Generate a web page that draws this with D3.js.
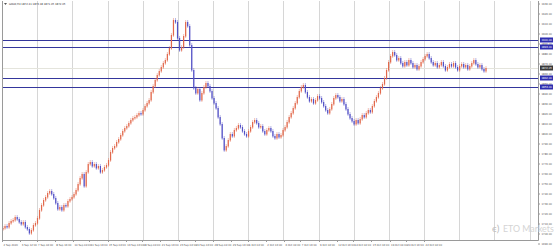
<!DOCTYPE html>
<html>
<head>
<meta charset="utf-8">
<script src="https://cdn.jsdelivr.net/npm/d3@7"></script>
<style>
  body { margin: 0; background: #fff; }
  svg { display: block; font-family: "Liberation Sans Narrow", "DejaVu Sans Condensed", sans-serif; }
</style>
</head>
<body>
<svg width="554" height="252"></svg>
<script>
// closing prices, one per H4 bar (open = previous close)
var closes = [
  1712,1714,1713,1717,1719,1720,1723,1721,1718,1716,
  1718,1713,1711,1707,1710,1715,1717,1722,1730,1735,
  1740,1743,1747,1749,1746,1742,1737,1731,1733,1730,
  1735,1734,1739,1741,1743,1746,1750,1756,1762,1766,
  1754,1768,1776,1778,1774,1776,1772,1774,1768,1770,
  1773,1775,1780,1788,1792,1794,1798,1801,1805,1809,
  1812,1814,1817,1820,1822,1823,1825,1827,1826,1830,
  1834,1837,1840,1848,1854,1860,1865,1869,1873,1877,
  1880,1886,1892,1905,1920,1918,1902,1890,1893,1904,
  1918,1914,1895,1870,1852,1847,1851,1840,1847,1853,
  1857,1854,1849,1842,1837,1832,1823,1816,1802,1790,
  1794,1800,1806,1804,1810,1812,1815,1813,1809,1806,
  1804,1809,1813,1818,1820,1817,1813,1814,1809,1806,
  1810,1812,1809,1804,1802,1806,1803,1805,1810,1813,
  1818,1823,1827,1832,1837,1843,1849,1853,1855,1848,
  1843,1839,1841,1837,1840,1844,1842,1838,1834,1830,
  1827,1831,1836,1842,1845,1843,1839,1841,1836,1831,
  1826,1822,1819,1816,1820,1817,1821,1825,1823,1827,
  1830,1828,1834,1839,1843,1847,1852,1856,1862,1870,
  1878,1884,1888,1885,1880,1882,1877,1874,1878,1875,
  1880,1877,1873,1875,1871,1874,1878,1881,1884,1886,
  1882,1878,1875,1877,1873,1875,1878,1874,1870,1873,
  1876,1874,1877,1873,1870,1874,1876,1873,1875,1871,
  1874,1877,1880,1876,1873,1875,1871,1869,1872
];

var levels = [1900, 1893, 1862, 1853];
var lastPrice = 1872.05;

var priceTicks = [1936,1926,1916,1906,1896,1886,1876,1866,1856,1846,1836,1826,
  1816,1806,1796,1786,1776,1766,1756,1746,1736,1726,1716,1706,1696];

var dateLabels = ["2 Sep 2020","3 Sep 12:00","7 Sep 04:00","8 Sep 16:00","10 Sep 04:00",
  "11 Sep 16:00","15 Sep 04:00","16 Sep 16:00","18 Sep 04:00","21 Sep 16:00",
  "23 Sep 04:00","24 Sep 16:00","28 Sep 04:00","29 Sep 16:00","1 Oct 04:00",
  "2 Oct 16:00","6 Oct 04:00","7 Oct 16:00","9 Oct 04:00","12 Oct 16:00",
  "14 Oct 04:00","15 Oct 16:00","19 Oct 04:00","20 Oct 16:00","22 Oct 04:00"];
var dateBars = [0,9,17,26,35,43,52,61,69,78,87,95,104,113,121,130,139,147,156,165,173,182,191,199,208];

var svg = d3.select("svg");
var plot = {left: 2, right: 538, top: 1, bottom: 240};
var fs = 2.8;

var x = d3.scaleLinear().domain([0, closes.length - 1]).range([3, 486]);
var y = d3.scaleLinear().domain([1700, 1938]).range([240, 2]);

svg.append("rect").attr("width", 554).attr("height", 252).attr("fill", "#fff");

// vertical grid every second date label, continued into the right margin
var gridBars = d3.range(0, 262, dateBars[2] + 0.33);
svg.append("g").selectAll("line")
  .data(gridBars.slice(1))
  .enter().append("line")
    .attr("x1", function(d) { return Math.round(x(d)) - 0.5; })
    .attr("x2", function(d) { return Math.round(x(d)) - 0.5; })
    .attr("y1", plot.top)
    .attr("y2", plot.bottom)
    .attr("stroke", "#d6d6d6")
    .attr("stroke-width", 1);

// current price line
svg.append("line")
  .attr("x1", plot.left).attr("x2", plot.right)
  .attr("y1", Math.round(y(lastPrice)) + 0.5).attr("y2", Math.round(y(lastPrice)) + 0.5)
  .attr("stroke", "#e4e4dc");

// horizontal levels
svg.append("g").selectAll("line")
  .data(levels)
  .enter().append("line")
    .attr("x1", plot.left).attr("x2", plot.right)
    .attr("y1", function(d) { return Math.round(y(d)) + 0.5; })
    .attr("y2", function(d) { return Math.round(y(d)) + 0.5; })
    .attr("stroke", "#34369c")
    .attr("stroke-width", 1);

// candles
var bars = closes.map(function(c, i) {
  var o = i ? closes[i - 1] : c - 1;
  return {i: i, open: o, close: c};
});

var candle = svg.append("g").selectAll("g")
  .data(bars)
  .enter().append("g")
    .attr("stroke", function(d) { return d.close >= d.open ? "#e2694c" : "#5250c6"; });

candle.append("line")
  .attr("x1", function(d) { return x(d.i); })
  .attr("x2", function(d) { return x(d.i); })
  .attr("y1", function(d) { return y(Math.max(d.open, d.close)) - 2; })
  .attr("y2", function(d) { return y(Math.min(d.open, d.close)) + 2; })
  .attr("stroke-width", 0.7)
  .attr("stroke-opacity", 0.6);

candle.append("line")
  .attr("x1", function(d) { return x(d.i); })
  .attr("x2", function(d) { return x(d.i); })
  .attr("y1", function(d) { return y(Math.max(d.open, d.close)); })
  .attr("y2", function(d) { return y(Math.min(d.open, d.close)) + 0.6; })
  .attr("stroke-width", 1.2);

// plot frame
svg.append("path")
  .attr("d", "M" + (plot.left + 0.5) + "," + plot.top + "V" + (plot.bottom + 0.5) +
    "H" + (plot.right + 0.5) + "V" + plot.top)
  .attr("fill", "none")
  .attr("stroke", "#9a9a9a");

// watermark (sits under the axis labels, as in the reference)
svg.append("text")
  .attr("x", 492).attr("y", 232)
  .attr("font-size", 10)
  .attr("fill", "#bdbdbd")
  .attr("font-family", "Lato, sans-serif")
  .text("\u03f5)");
svg.append("text")
  .attr("x", 503).attr("y", 232)
  .attr("font-size", 8.8)
  .attr("fill", "#d4d4d4")
  .attr("font-family", "Lato, sans-serif")
  .text("ETO Markets");

// right price axis
var yAxis = svg.append("g")
  .attr("font-size", fs)
  .attr("fill", "#555");

yAxis.selectAll("text")
  .data(priceTicks)
  .enter().append("text")
    .attr("x", 541.5)
    .attr("y", function(d) { return y(d); })
    .attr("dy", "0.35em")
    .text(function(d) { return d.toFixed(2); });

yAxis.selectAll("line")
  .data(priceTicks)
  .enter().append("line")
    .attr("x1", plot.right).attr("x2", plot.right + 2)
    .attr("y1", function(d) { return y(d); })
    .attr("y2", function(d) { return y(d); })
    .attr("stroke", "#9a9a9a");

// level / price tags
var tags = svg.append("g").selectAll("g")
  .data(levels.map(function(v) { return {v: v, c: "#2e2eb0"}; })
    .concat([{v: lastPrice, c: "#3a3a3a"}]))
  .enter().append("g")
    .attr("transform", function(d) { return "translate(540," + Math.round(y(d.v)) + ")"; });

tags.append("rect")
  .attr("y", -2.5).attr("width", 13).attr("height", 5)
  .attr("fill", function(d) { return d.c; });

tags.append("text")
  .attr("x", 1.5).attr("dy", "0.35em")
  .attr("font-size", fs)
  .attr("fill", "#fff")
  .text(function(d) { return d.v.toFixed(2); });

// date axis
svg.append("g")
  .attr("font-size", fs)
  .attr("fill", "#555")
  .selectAll("text")
  .data(dateLabels)
  .enter().append("text")
    .attr("x", function(d, i) { return x(dateBars[i]) + 0.5; })
    .attr("y", 245.5)
    .text(function(d) { return d; });

svg.append("g").selectAll("line")
  .data(dateBars)
  .enter().append("line")
    .attr("x1", function(d) { return Math.round(x(d)) - 0.5; })
    .attr("x2", function(d) { return Math.round(x(d)) - 0.5; })
    .attr("y1", plot.bottom).attr("y2", plot.bottom + 2)
    .attr("stroke", "#9a9a9a");

// title
svg.append("path")
  .attr("d", "M4,3 L7,3 L5.5,5 Z")
  .attr("fill", "#555");
svg.append("text")
  .attr("x", 9).attr("y", 5.3)
  .attr("font-size", fs)
  .attr("fill", "#333")
  .text("GOLD,H4  1872.41 1873.18 1871.05 1872.05");
</script>
</body>
</html>
